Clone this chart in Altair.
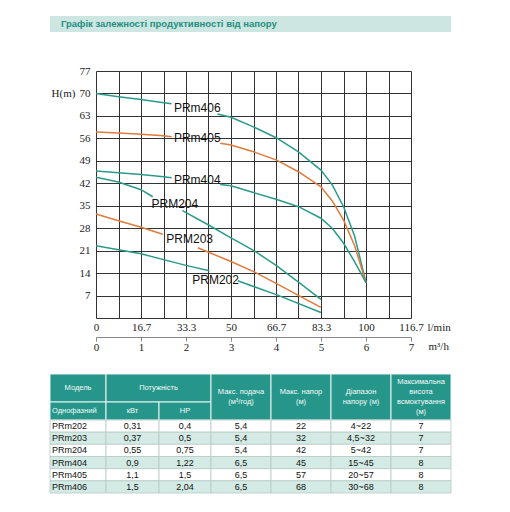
# Графік залежності напору від подачі для насосів PRm/PRM + таблиця характеристик

import altair as alt
import pandas as pd

# Криві: подача (l/min) та напір (м), кожна розбита на дві частини навколо підпису
models = ['PRm406', 'PRm405', 'PRm404', 'PRM204', 'PRM203', 'PRM202']
curve_colors = ['#2a9a8b', '#e07b3c', '#2a9a8b', '#2a9a8b', '#e07b3c', '#2a9a8b']

q406_a = [0, 8.3, 16.7, 25, 28]
h406_a = [70, 69.0, 68.1, 67.1, 66.8]
q406_b = [45, 50, 58.3, 66.7, 75, 83.3, 87.5, 91.7, 95.8, 100]
h406_b = [63.6, 62.6, 59.6, 56.2, 51.8, 46.1, 41.5, 34.7, 25.5, 11]

q405_a = [0, 8.3, 16.7, 25, 28]
h405_a = [58, 57.7, 57.3, 56.8, 56.5]
q405_b = [46, 50, 58.3, 66.7, 75, 83.3, 87.5, 91.7, 95.8, 100]
h405_b = [54.5, 53.9, 51.8, 49.3, 45.6, 40.9, 36.5, 30.5, 22.5, 11]

q404_a = [0, 8.3, 16.7, 25, 28]
h404_a = [45.8, 45.3, 44.7, 44.0, 43.7]
q404_b = [46, 50, 58.3, 66.7, 75, 83.3, 87.5, 91.7, 95.8, 100]
h404_b = [41.6, 41.2, 39.1, 37.0, 34.7, 31.1, 28.0, 23.3, 17.5, 11]

q204_a = [0, 8.3, 16.7, 21]
h204_a = [43.9, 42.4, 40.0, 37.8]
q204_b = [32, 41.7, 50, 58.3, 66.7, 75, 83.3]
h204_b = [33.5, 29.0, 25.0, 21.1, 16.4, 11.2, 5.8]

q203_a = [0, 8.3, 16.7, 24.7]
h203_a = [32.4, 30.3, 28.3, 26.1]
q203_b = [37.7, 50, 58.6, 66.7, 75.3, 83.3]
h203_b = [21.9, 17.6, 14.4, 10.8, 6.9, 3.3]

q202_a = [0, 16.7, 33.3, 42]
h202_a = [22.5, 20.0, 16.4, 14.7]
q202_b = [52.5, 67, 83.3]
h202_b = [11.6, 7.2, 1.7]

# Підписи кривих (центр тексту)
label_q = [37.5, 37.5, 37.5, 29.2, 34.7, 44.3]
label_h = [65.6, 56.1, 42.9, 35.4, 24.6, 11.9]

# Підписи осей
h_ticks = [0, 7, 14, 21, 28, 35, 42, 49, 56, 63, 70, 77]
q_labels = ['0', '16.7', '33.3', '50', '66.7', '83.3', '100', '116.7']
m3h_ticks = [0, 1, 2, 3, 4, 5, 6, 7]

# Таблиця
title_text = 'Графік залежності продуктивності від напору'
t_models = ['PRm202', 'PRm203', 'PRm204', 'PRm404', 'PRm405', 'PRm406']
t_kw = ['0,31', '0,37', '0,55', '0,9', '1,1', '1,5']
t_hp = ['0,4', '0,5', '0,75', '1,22', '1,5', '2,04']
t_flow = ['5,4', '5,4', '5,4', '6,5', '6,5', '6,5']
t_head = ['22', '32', '42', '45', '57', '68']
t_range = ['4~22', '4,5~32', '5~42', '15~45', '20~57', '30~68']
t_suction = ['7', '7', '7', '8', '8', '8']

# ---- побудова таблиць даних ----
segments = {
    'PRm406': [(q406_a, h406_a), (q406_b, h406_b)],
    'PRm405': [(q405_a, h405_a), (q405_b, h405_b)],
    'PRm404': [(q404_a, h404_a), (q404_b, h404_b)],
    'PRM204': [(q204_a, h204_a), (q204_b, h204_b)],
    'PRM203': [(q203_a, h203_a), (q203_b, h203_b)],
    'PRM202': [(q202_a, h202_a), (q202_b, h202_b)],
}
rows = []
for m, segs in segments.items():
    for si, (qs, hs) in enumerate(segs):
        for i, (q, h) in enumerate(zip(qs, hs)):
            rows.append({'model': m, 'seg': f'{m}-{si}', 'q': q, 'h': h, 'i': i})
curves_df = pd.DataFrame(rows)
labels_df = pd.DataFrame({'model': models, 'q': label_q, 'h': label_h})

q_max = 350 / 3  # 116.67 l/min
grid_q = [i * 25 / 3 for i in range(15)]
lbl_arr = []
for i in range(15):
    lbl_arr.append(q_labels[i // 2] if i % 2 == 0 else '')
q_label_expr = '[' + ','.join(f"'{s}'" for s in lbl_arr) + '][round(datum.value * 3 / 25)]'

serif = 'Liberation Serif'
sans = 'Liberation Sans'

x_main = alt.X('q:Q', scale=alt.Scale(domain=[0, q_max], nice=False, zero=False),
               axis=alt.Axis(values=grid_q, labelExpr=q_label_expr, grid=True, gridColor='#333',
                             gridOpacity=1, gridWidth=1, domain=False, ticks=False,
                             labelFlush=False, labelOverlap=False, labelPadding=3,
                             labelFont=serif, labelFontSize=11, labelColor='#222',
                             title='l/min', titleX=331, titleY=9, titleAlign='left',
                             titleBaseline='middle', titleFont=serif, titleFontSize=11,
                             titleFontWeight='normal', titleColor='#222'))
y_main = alt.Y('h:Q', scale=alt.Scale(domain=[0, 77], nice=False),
               axis=alt.Axis(values=h_ticks, labelExpr="datum.value == 0 ? '' : datum.label",
                             grid=True, gridColor='#333', gridOpacity=1, gridWidth=1,
                             domain=False, ticks=False, labelOverlap=False, labelPadding=6,
                             labelFont=serif, labelFontSize=11, labelColor='#222',
                             title='H(m)', titleAngle=0, titleX=-33, titleY=22,
                             titleAlign='center', titleBaseline='middle', titleFont=serif,
                             titleFontSize=11, titleFontWeight='normal', titleColor='#222'))

lines = alt.Chart(curves_df).mark_line(strokeWidth=1.5).encode(
    x=x_main, y=y_main,
    color=alt.Color('model:N', scale=alt.Scale(domain=models, range=curve_colors), legend=None),
    detail='seg:N',
    order='i:Q',
)
texts = alt.Chart(labels_df).mark_text(font=sans, fontSize=12, color='#111').encode(
    x=x_main, y=y_main, text='model:N'
)

m3h_layer = alt.Chart(pd.DataFrame({'v': m3h_ticks})).mark_point(opacity=0).encode(
    x=alt.X('v:Q', scale=alt.Scale(domain=[0, 7], nice=False),
            axis=alt.Axis(orient='bottom', offset=19, values=m3h_ticks, grid=False,
                          domainColor='#888', tickColor='#888', tickSize=4, labelPadding=0,
                          labelFlush=False, labelFont=serif, labelFontSize=11, labelColor='#222',
                          title='m³/h', titleX=332, titleY=9, titleAlign='left',
                          titleBaseline='middle', titleFont=serif, titleFontSize=11,
                          titleFontWeight='normal', titleColor='#222'))
)

plot = alt.layer(alt.layer(lines, texts), m3h_layer).resolve_scale(x='independent').properties(
    width=315, height=247
)

# порожній елемент, щоб ліва межа підпису осі збігалася з таблицею
spacer = alt.Chart(pd.DataFrame({'v': [0]})).mark_rect(opacity=0).encode(
    x=alt.value(0), x2=alt.value(0), y=alt.value(0), y2=alt.value(0)
).properties(width=1, height=1)

# ---- смуга заголовка ----
title_bar = alt.Chart(pd.DataFrame({'t': [title_text]})).mark_text(
    align='left', baseline='middle', font=sans, fontWeight='bold', fontSize=9.5, color='#1e8f80'
).encode(x=alt.value(11), y=alt.value(8), text='t:N').properties(
    width=401, height=16, view=alt.ViewBackground(fill='#cde6e1', stroke=None)
)

# ---- таблиця ----
col_edges = [0, 56, 109, 161, 221, 281, 341, 401]
row_edges = [0, 28, 46, 58.2, 70.3, 82.5, 94.7, 106.8, 119]
hdr_fs, hdr_lh = 7.5, 10

header_cells = [
    (0, 1, 0, 1, 'Модель', 'center'),
    (1, 3, 0, 1, 'Потужність', 'center'),
    (0, 1, 1, 2, 'Однофазний', 'left'),
    (1, 2, 1, 2, 'кВт', 'center'),
    (2, 3, 1, 2, 'HP', 'center'),
    (3, 4, 0, 2, 'Макс. подача\n(м³/год)', 'center'),
    (4, 5, 0, 2, 'Макс. напор\n(м)', 'center'),
    (5, 6, 0, 2, 'Діапазон\nнапору (м)', 'center'),
    (6, 7, 0, 2, 'Максимальна\nвисота\nвсмоктування\n(м)', 'center'),
]
hdr = []
for c0, c1, r0, r1, txt, al in header_cells:
    x0, x1, y0, y1 = col_edges[c0], col_edges[c1], row_edges[r0], row_edges[r1]
    n = txt.count('\n') + 1
    hdr.append({'x0': x0, 'x1': x1, 'y0': y0, 'y1': y1, 'txt': txt, 'al': al,
                'tx': x0 + 2 if al == 'left' else (x0 + x1) / 2,
                'ty': (y0 + y1) / 2 - n * hdr_lh / 2 + (hdr_lh - hdr_fs) / 2})
hdr_df = pd.DataFrame(hdr)

cols = [t_models, t_kw, t_hp, t_flow, t_head, t_range, t_suction]
cells = []
for r in range(len(t_models)):
    for c in range(7):
        x0, x1 = col_edges[c], col_edges[c + 1]
        y0, y1 = row_edges[r + 2], row_edges[r + 3]
        cells.append({'x0': x0, 'x1': x1, 'y0': y0, 'y1': y1, 'txt': cols[c][r],
                      'band': 'b' if r % 2 else 'a', 'al': 'left' if c == 0 else 'center',
                      'tx': x0 + 2 if c == 0 else (x0 + x1) / 2, 'ty': (y0 + y1) / 2})
cells_df = pd.DataFrame(cells)

tx_scale = alt.Scale(domain=[0, 401], nice=False, zero=False)
ty_scale = alt.Scale(domain=[0, 119], nice=False, reverse=True)

hdr_rect = alt.Chart(hdr_df).mark_rect(fill='#26968a', stroke='#e8f4f2', strokeWidth=1).encode(
    x=alt.X('x0:Q', scale=tx_scale, axis=None), x2='x1:Q',
    y=alt.Y('y0:Q', scale=ty_scale, axis=None), y2='y1:Q'
)
cell_rect = alt.Chart(cells_df).mark_rect(stroke='#b8c9c5', strokeWidth=0.8).encode(
    x=alt.X('x0:Q', scale=tx_scale, axis=None), x2='x1:Q',
    y=alt.Y('y0:Q', scale=ty_scale, axis=None), y2='y1:Q',
    fill=alt.Fill('band:N', scale=alt.Scale(domain=['a', 'b'], range=['#ffffff', '#d4ebe5']),
                  legend=None)
)
hdr_text_c = alt.Chart(hdr_df).transform_filter(alt.datum.al == 'center').mark_text(
    font=sans, fontSize=hdr_fs, color='#f4fbfa', lineBreak='\n', lineHeight=hdr_lh, baseline='top'
).encode(x=alt.X('tx:Q', scale=tx_scale), y=alt.Y('ty:Q', scale=ty_scale), text='txt:N')
hdr_text_l = alt.Chart(hdr_df).transform_filter(alt.datum.al == 'left').mark_text(
    font=sans, fontSize=hdr_fs, color='#f4fbfa', align='left', baseline='top'
).encode(x=alt.X('tx:Q', scale=tx_scale), y=alt.Y('ty:Q', scale=ty_scale), text='txt:N')
cell_text_c = alt.Chart(cells_df).transform_filter(alt.datum.al == 'center').mark_text(
    font=sans, fontSize=9, color='#111', baseline='middle'
).encode(x=alt.X('tx:Q', scale=tx_scale), y=alt.Y('ty:Q', scale=ty_scale), text='txt:N')
cell_text_l = alt.Chart(cells_df).transform_filter(alt.datum.al == 'left').mark_text(
    font=sans, fontSize=9, color='#111', align='left', baseline='middle'
).encode(x=alt.X('tx:Q', scale=tx_scale), y=alt.Y('ty:Q', scale=ty_scale), text='txt:N')

table = alt.layer(hdr_rect, cell_rect, hdr_text_c, hdr_text_l, cell_text_c, cell_text_l).properties(
    width=401, height=119
)

chart = alt.vconcat(
    title_bar,
    alt.vconcat(alt.hconcat(spacer, plot, spacing=0), table, spacing=21),
    spacing=33,
).properties(
    padding={'left': 41, 'top': 8, 'right': 5, 'bottom': 5}
).configure_view(stroke=None)

chart.save('out.html', embed_options={'renderer': 'svg', 'actions': False})
